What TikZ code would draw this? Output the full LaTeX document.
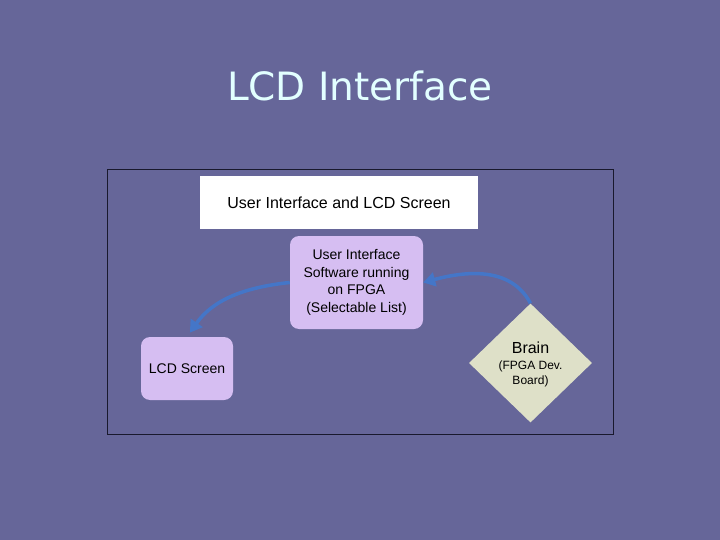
\documentclass[tikz,border=0pt]{standalone}
\usepackage{fontspec}
\setmainfont{Liberation Sans}
\newfontfamily\titlefont{DejaVu Sans}
\usetikzlibrary{shapes.geometric,arrows.meta}
\definecolor{slidebg}{RGB}{102,102,153}
\definecolor{titlecol}{RGB}{226,255,255}
\definecolor{lav}{RGB}{214,190,242}
\definecolor{brainfill}{RGB}{222,224,200}
\definecolor{connblue}{RGB}{68,118,200}
\definecolor{framecol}{RGB}{25,25,45}
\tikzset{
  lavbox/.style={fill=lav, rounded corners=9pt, inner sep=0pt, align=center, font=\fontsize{14}{17.5}\selectfont},
  brainshape/.style={diamond, fill=brainfill, inner sep=0pt, minimum width=123pt, minimum height=119pt},
  conn/.style={draw=connblue, line width=3.5pt, -{Triangle[length=12pt,width=14pt]}},
}
\begin{document}
\begin{tikzpicture}[x=1pt,y=-1pt]
\useasboundingbox (0,0) rectangle (720,540);
\fill[slidebg] (0,0) rectangle (720,540);
\node[text=titlecol, font=\titlefont\fontsize{39}{44}\selectfont] (title) at (360,86) {LCD Interface};
\draw[framecol, line width=0.9pt] (107,169) rectangle (613,434);
\node[fill=white, minimum width=278pt, minimum height=53pt, inner sep=0pt, font=\fontsize{16}{19}\selectfont] (header) at (339,202.5) {User Interface and LCD Screen};
\node[lavbox, minimum width=133pt, minimum height=93pt] (ui) at (356.5,282.5) {User Interface\\Software running\\on FPGA\\(Selectable List)};
\node[lavbox, minimum width=92pt, minimum height=63pt] (lcd) at (187,368.5) {LCD Screen};
\node[brainshape] (brain) at (530.5,363) {};
\node[align=center, inner sep=0pt, font=\fontsize{12}{15}\selectfont] (braintext) at (530.5,364) {{\fontsize{16}{18}\selectfont Brain}\\[1pt](FPGA Dev.\\Board)};
\draw[conn, shorten >=5pt] (ui.west) to[out=186,in=55] (lcd.north);
\draw[conn] (brain.north) to[out=118,in=15] (ui.east);
\end{tikzpicture}
\end{document}
